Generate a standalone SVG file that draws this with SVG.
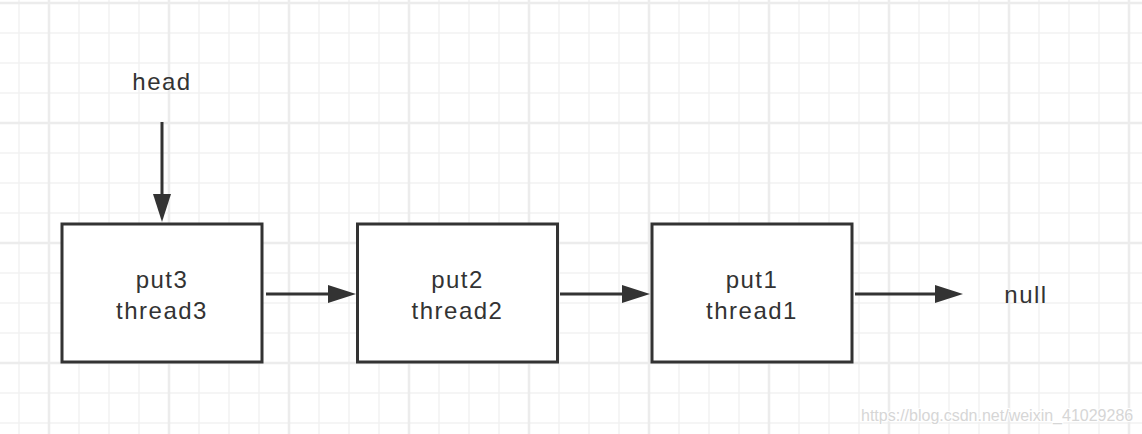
<svg xmlns="http://www.w3.org/2000/svg" width="1142" height="434" viewBox="0 0 1142 434">
  <style>
    .minor { stroke: #f2f2f2; stroke-width: 1.5; fill: none; }
    .major { stroke: #ececec; stroke-width: 2.5; fill: none; }
    .box { fill: #ffffff; stroke: #333333; stroke-width: 3; }
    .lbl { font-family: "Liberation Sans", Arial, Helvetica, sans-serif; font-size: 24px; fill: #333333; letter-spacing: 1.5px; text-anchor: middle; }
    .edge { stroke: #333333; stroke-width: 3; fill: none; marker-end: url(#arrow); }
    .wm { font-family: "Liberation Sans", Arial, sans-serif; font-size: 16px; fill: #d6d6d6; stroke: #ffffff; stroke-width: 2; paint-order: stroke; }
  </style>
  <defs>
    <marker id="arrow" markerUnits="userSpaceOnUse" markerWidth="28" markerHeight="18" refX="14" refY="9" orient="auto">
      <path d="M0 0 L28 9 L0 18 Z" fill="#333333"/>
    </marker>
  </defs>
  <rect width="1142" height="434" fill="#ffffff"/>
  <g id="grid">
    <path class="minor" d="M19 0V434M79 0V434M109 0V434M139 0V434M199 0V434M229 0V434M259 0V434M319 0V434M349 0V434M379 0V434M439 0V434M469 0V434M499 0V434M559 0V434M589 0V434M619 0V434M679 0V434M709 0V434M739 0V434M799 0V434M829 0V434M859 0V434M919 0V434M949 0V434M979 0V434M1039 0V434M1069 0V434M1099 0V434M0 33H1142M0 63H1142M0 93H1142M0 153H1142M0 183H1142M0 213H1142M0 273H1142M0 303H1142M0 333H1142M0 393H1142M0 423H1142"/>
    <path class="major" d="M49 0V434M169 0V434M289 0V434M409 0V434M529 0V434M649 0V434M769 0V434M889 0V434M1009 0V434M1129 0V434M0 3H1142M0 123H1142M0 243H1142M0 363H1142"/>
  </g>
  <g id="connectors">
    <line class="edge" x1="162" y1="122" x2="162" y2="208"/>
    <line class="edge" x1="266" y1="294" x2="342" y2="294"/>
    <line class="edge" x1="560" y1="294" x2="636" y2="294"/>
    <line class="edge" x1="855" y1="294" x2="949" y2="294"/>
  </g>
  <g id="head">
    <text class="lbl" x="162" y="90">head</text>
  </g>
  <g id="node-put3">
    <rect class="box" x="62" y="224" width="200" height="138"/>
    <text class="lbl" x="162" y="288">put3</text>
    <text class="lbl" x="162" y="319">thread3</text>
  </g>
  <g id="node-put2">
    <rect class="box" x="357.5" y="224" width="200" height="138"/>
    <text class="lbl" x="457.5" y="288">put2</text>
    <text class="lbl" x="457.5" y="319">thread2</text>
  </g>
  <g id="node-put1">
    <rect class="box" x="652" y="224" width="200" height="138"/>
    <text class="lbl" x="752" y="288">put1</text>
    <text class="lbl" x="752" y="319">thread1</text>
  </g>
  <g id="null">
    <text class="lbl" x="1026" y="303">null</text>
  </g>
  <text class="wm" x="861" y="421">https://blog.csdn.net/weixin_41029286</text>
</svg>
